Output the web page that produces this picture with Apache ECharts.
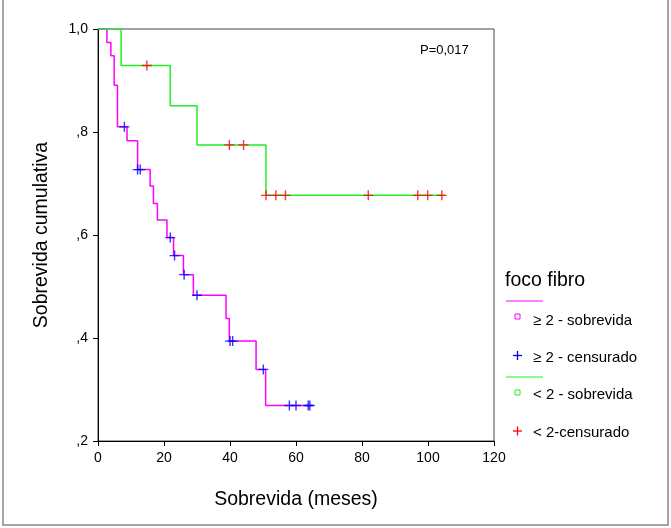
<!DOCTYPE html>
<html>
<head>
<meta charset="utf-8">
<script src="https://cdn.jsdelivr.net/npm/echarts@6/dist/echarts.min.js"></script>
<style>
  html, body { margin: 0; padding: 0; background: #fff; }
  #chart { width: 671px; height: 528px; }
</style>
</head>
<body>
<div id="chart"></div>
<script>
// curva foco fibro >= 2
var altoTempo = [0, 2.7, 3.9, 4.9, 5.9, 8.8, 12.0, 15.8, 16.8, 18.0, 20.9, 22.9, 25.9, 28.9, 38.8, 39.8, 47.9, 50.8, 65.0];
var altoSobrev = [1, 0.974, 0.948, 0.891, 0.810, 0.783, 0.727, 0.695, 0.661, 0.629, 0.595, 0.560, 0.523, 0.483, 0.438, 0.394, 0.339, 0.269, 0.269];
var altoCensTempo = [8.0, 12.0, 12.8, 21.9, 23.2, 26.1, 30.0, 40.0, 40.8, 50.1, 58.0, 60.0, 63.7, 64.2];
var altoCensSobrev = [0.810, 0.727, 0.727, 0.595, 0.560, 0.523, 0.483, 0.394, 0.394, 0.339, 0.269, 0.269, 0.269, 0.269];

// curva foco fibro < 2
var baixoTempo = [0, 7.0, 21.9, 30.0, 50.9, 105.1];
var baixoSobrev = [1, 0.929, 0.851, 0.775, 0.677, 0.677];
var baixoCensTempo = [14.8, 39.8, 44.1, 50.9, 53.9, 56.8, 81.9, 96.9, 99.9, 104.2];
var baixoCensSobrev = [0.929, 0.775, 0.775, 0.677, 0.677, 0.677, 0.677, 0.677, 0.677, 0.677];

var xTicks = [0, 20, 40, 60, 80, 100, 120];
var yLabels = { "0.2": ",2", "0.4": ",4", "0.6": ",6", "0.8": ",8", "1": "1,0" };

var FONT = "Liberation Sans";
var PLUS = "path://M0,4.3H10V5.7H0Z M4.3,0H5.7V10H4.3Z";

function pares(xs, ys) {
  return xs.map(function (x, i) { return [x, ys[i]]; });
}

// cruz da legenda feita com duas linhas
function cruz(cx, cy, cor) {
  return [
    { type: "line", shape: { x1: cx - 4.5, y1: cy, x2: cx + 4.5, y2: cy }, style: { stroke: cor, lineWidth: 1.3 } },
    { type: "line", shape: { x1: cx, y1: cy - 4.5, x2: cx, y2: cy + 4.5 }, style: { stroke: cor, lineWidth: 1.3 } },
  ];
}

function texto(x, y, t, tam) {
  return { type: "text", x: x, y: y,
    style: { text: t, fontFamily: FONT, fontSize: tam, fill: "#000", verticalAlign: "middle", align: "left" } };
}

var myChart = echarts.init(document.getElementById("chart"));

var option = {
  animation: false,
  backgroundColor: "#fff",
  grid: {
    left: 98,
    right: 177,
    top: 29,
    bottom: 87,
    show: true,
    borderColor: "#444",
    borderWidth: 1,
  },
  xAxis: {
    type: "value",
    min: 0,
    max: 120,
    interval: 20,
    name: "Sobrevida (meses)",
    nameLocation: "middle",
    nameGap: 49,
    nameTextStyle: { fontFamily: FONT, fontSize: 19.5, color: "#000" },
    axisLine: { show: true, onZero: false, lineStyle: { color: "#000", width: 1 } },
    axisTick: { show: true, length: 5, lineStyle: { color: "#000" } },
    axisLabel: {
      fontFamily: FONT, fontSize: 14, color: "#000", margin: 10,
      formatter: function (v) { return xTicks.indexOf(v) >= 0 ? String(v) : ""; },
    },
    splitLine: { show: false },
  },
  yAxis: {
    type: "value",
    min: 0.2,
    max: 1.0,
    interval: 0.2,
    name: "Sobrevida cumulativa",
    nameLocation: "middle",
    nameRotate: 90,
    nameGap: 46,
    nameTextStyle: { fontFamily: FONT, fontSize: 19.5, color: "#000" },
    axisLine: { show: true, onZero: false, lineStyle: { color: "#000", width: 1 } },
    axisTick: { show: true, length: 5, lineStyle: { color: "#000" } },
    axisLabel: {
      fontFamily: FONT, fontSize: 14, color: "#000", margin: 10,
      formatter: function (v) {
        var k = String(Math.round(v * 10) / 10);
        return yLabels[k] || "";
      },
    },
    splitLine: { show: false },
  },
  series: [
    {
      name: "≥ 2 - sobrevida",
      type: "line",
      step: "end",
      data: pares(altoTempo, altoSobrev),
      symbol: "none",
      lineStyle: { color: "#ff00ff", width: 1.5 },
      z: 2,
    },
    {
      name: "≥ 2 - censurado",
      type: "scatter",
      data: pares(altoCensTempo, altoCensSobrev),
      symbol: PLUS,
      symbolSize: 10,
      itemStyle: { color: "#0000ff" },
      z: 3,
    },
    {
      name: "< 2 - sobrevida",
      type: "line",
      step: "end",
      data: pares(baixoTempo, baixoSobrev),
      symbol: "none",
      lineStyle: { color: "#22ee22", width: 1.5 },
      z: 2,
    },
    {
      name: "< 2-censurado",
      type: "scatter",
      data: pares(baixoCensTempo, baixoCensSobrev),
      symbol: PLUS,
      symbolSize: 10,
      itemStyle: { color: "#ff0000" },
      z: 3,
    },
  ],
  graphic: [
    // moldura externa
    { type: "rect", shape: { x: 3, y: -2, width: 665, height: 527 },
      style: { fill: "none", stroke: "#888", lineWidth: 1.5 }, silent: true },
    texto(420, 50, "P=0,017", 13),
    // legenda
    texto(505, 281, "foco fibro", 19.5),
    { type: "line", shape: { x1: 506, y1: 301, x2: 543, y2: 301 }, style: { stroke: "#ff00ff", lineWidth: 1 } },
    { type: "rect", shape: { x: 515, y: 314, width: 5, height: 5 }, style: { fill: "none", stroke: "#ff00ff", lineWidth: 1 } },
    texto(533, 321, "≥ 2 - sobrevida", 15),
  ].concat(cruz(517.5, 355.5, "#0000ff"), [
    texto(533, 358, "≥ 2 - censurado", 15),
    { type: "line", shape: { x1: 506, y1: 377, x2: 543, y2: 377 }, style: { stroke: "#22ee22", lineWidth: 1 } },
    { type: "rect", shape: { x: 515, y: 390, width: 5, height: 5 }, style: { fill: "none", stroke: "#22ee22", lineWidth: 1 } },
    texto(533, 395, "< 2 - sobrevida", 15),
  ], cruz(517.5, 431, "#ff0000"), [
    texto(533, 433, "< 2-censurado", 15),
  ]),
};

myChart.setOption(option);
</script>
</body>
</html>
